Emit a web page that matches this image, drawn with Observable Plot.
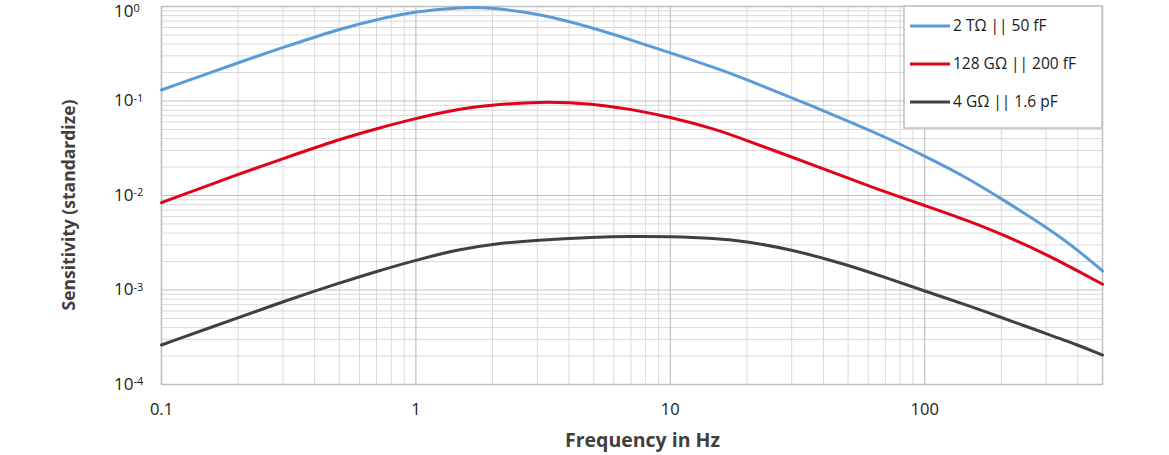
<!DOCTYPE html>
<html>
<head>
<meta charset="utf-8">
<script src="https://cdn.jsdelivr.net/npm/d3@7"></script>
<script src="https://cdn.jsdelivr.net/npm/@observablehq/plot@0.6"></script>
<style>
  html, body { margin: 0; padding: 0; background: #fff; }
  #chart svg { display: block; }
</style>
</head>
<body>
<div id="chart"></div>
<script>
// ---- data ----
const freq = [0.1, 0.2, 0.3, 0.5, 0.7, 1, 1.5, 2, 3, 5, 7, 10, 15, 20, 30, 50, 70, 100, 150, 200, 300, 400, 500];
const blueSeries = [0.1307, 0.2542, 0.3683, 0.5778, 0.7284, 0.8855, 0.988, 0.9688, 0.847, 0.5921, 0.4418, 0.3245, 0.2251, 0.1688, 0.1084, 0.06144, 0.04159, 0.0262, 0.01495, 0.00925, 0.004642, 0.00265, 0.00159];
const redSeries = [0.00839, 0.01677, 0.02451, 0.03933, 0.05091, 0.0656, 0.08328, 0.09073, 0.09879, 0.09409, 0.0817, 0.0677, 0.05054, 0.03819, 0.02555, 0.01532, 0.01089, 0.00784, 0.00537, 0.003915, 0.0024, 0.00159, 0.00115];
const graySeries = [0.000262, 0.000509, 0.000752, 0.001186, 0.00157, 0.002077, 0.002715, 0.003068, 0.003381, 0.003621, 0.003693, 0.003684, 0.003524, 0.00326, 0.002683, 0.001839, 0.001356, 0.000976, 0.000677, 0.000512, 0.000346, 0.000262, 0.000205];
const seriesNames = ["2 TΩ || 50 fF", "128 GΩ || 200 fF", "4 GΩ || 1.6 pF"];
const seriesColors = ["#5b9bd5", "#e2001a", "#404040"];
const xTickValues = [0.1, 1, 10, 100];
const xTickLabels = ["0.1", "1", "10", "100"];
const yTickValues = [1, 0.1, 0.01, 0.001, 0.0001];
const yTickExponents = ["0", "-1", "-2", "-3", "-4"];
const xTitle = "Frequency in Hz";
const yTitle = "Sensitivity (standardize)";

const allSeries = [blueSeries, redSeries, graySeries];
const rows = allSeries.flatMap((vals, i) => freq.map((f, j) => ({f, v: vals[j], s: seriesNames[i]})));

// grid lines
const minorX = [];
for (const d of [0.1, 1, 10, 100]) for (let k = 2; k <= 9; k++) { const v = +(d * k).toPrecision(3); if (v < 500) minorX.push(v); }
const minorY = [];
for (const d of [0.0001, 0.001, 0.01, 0.1]) for (let k = 2; k <= 9; k++) minorY.push(+(d * k).toPrecision(3));

const font = "'Open Sans', 'Noto Sans', sans-serif";

const plot = Plot.plot({
  width: 1169,
  height: 455,
  marginLeft: 161,
  marginRight: 67,
  marginTop: 6,
  marginBottom: 71,
  style: {fontFamily: font, fontSize: "16.5px", color: "#1a1a1a", background: "#fff"},
  x: {type: "log", domain: [0.1, 500]},
  y: {type: "log", domain: [0.0001, 1]},
  color: {domain: seriesNames, range: seriesColors},
  marks: [
    Plot.ruleX(minorX, {stroke: "#d9d9d9", strokeWidth: 1}),
    Plot.ruleY(minorY, {stroke: "#d9d9d9", strokeWidth: 1}),
    Plot.ruleX(xTickValues, {stroke: "#bfbfbf", strokeWidth: 1.2}),
    Plot.ruleY(yTickValues, {stroke: "#bfbfbf", strokeWidth: 1.2}),
    Plot.frame({stroke: "#bfbfbf", strokeWidth: 1.5}),
    Plot.axisX({ticks: xTickValues, tickSize: 0, tickPadding: 19, label: null,
      tickFormat: d => xTickLabels[xTickValues.indexOf(d)], fontSize: 16.5, fill: "#1a1a1a"}),
    Plot.axisY({ticks: [], label: null, tickSize: 0}),
    Plot.line(rows, {x: "f", y: "v", z: "s", stroke: "s", strokeWidth: 3, curve: "basis"})
  ]
});

document.getElementById("chart").appendChild(plot);

const svg = d3.select(plot);
const xs = plot.scale("x");
const ys = plot.scale("y");

// y tick labels with superscript exponents
yTickValues.forEach((v, i) => {
  const yy = Math.max(ys.apply(v), 11);
  const t = svg.append("text")
    .attr("x", 114).attr("y", yy)
    .attr("dy", "0.35em")
    .attr("text-anchor", "start")
    .attr("font-family", font).attr("font-size", 17).attr("fill", "#1a1a1a");
  t.append("tspan").text("10");
  t.append("tspan").attr("dy", "-0.45em").attr("font-size", 11).text(yTickExponents[i]);
});

// axis titles
svg.append("text")
  .attr("x", (xs.range[0] + xs.range[1]) / 2 + 11).attr("y", 447)
  .attr("text-anchor", "middle")
  .attr("font-family", font).attr("font-size", 19.5).attr("font-weight", "bold").attr("fill", "#404040")
  .text(xTitle);
svg.append("text")
  .attr("transform", `translate(75,205) rotate(-90)`)
  .attr("text-anchor", "middle")
  .attr("font-family", font).attr("font-size", 17.5).attr("font-weight", "bold").attr("fill", "#404040")
  .text(yTitle);

// legend box (inside top right of plot)
const lg = svg.append("g").attr("transform", "translate(904,6)");
lg.append("rect").attr("width", 198).attr("height", 122)
  .attr("fill", "#fff").attr("stroke", "#bfbfbf").attr("stroke-width", 1.5);
seriesNames.forEach((name, i) => {
  const yy = 20 + i * 38;
  lg.append("line").attr("x1", 6).attr("x2", 46).attr("y1", yy).attr("y2", yy)
    .attr("stroke", seriesColors[i]).attr("stroke-width", 3);
  lg.append("text").attr("x", 49).attr("y", yy).attr("dy", "0.35em")
    .attr("text-anchor", "start")
    .attr("font-family", font).attr("font-size", 15.5).attr("fill", "#1a1a1a")
    .text(name);
});
</script>
</body>
</html>
